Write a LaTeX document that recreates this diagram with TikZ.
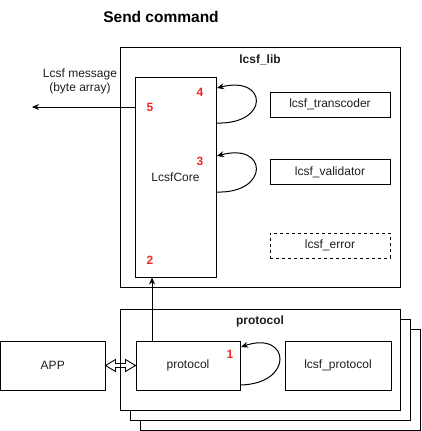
\documentclass[tikz,border=0pt]{standalone}
\usepackage{fontspec}
\setmainfont{Liberation Sans}
\usetikzlibrary{arrows.meta}
\definecolor{numred}{RGB}{240,40,40}
\definecolor{txt}{RGB}{30,30,30}
\begin{document}
\begin{tikzpicture}[x=1pt,y=-1pt,line width=1pt,
  box/.style={draw,fill=white,rectangle,inner sep=0pt,text=txt,font=\fontsize{12}{14}\selectfont},
  num/.style={text=numred,font=\bfseries\fontsize{12}{14}\selectfont,inner sep=0pt},
  ttl/.style={text=txt,font=\bfseries\fontsize{12}{14}\selectfont,inner sep=0pt},
  arr/.style={-{Stealth[length=7pt,width=6pt]}}]
\useasboundingbox (0,0) rectangle (421,431);
% title
\node[font=\bfseries\fontsize{15.5}{18}\selectfont,inner sep=0pt] (title) at (161,17) {Send command};
% lcsf_lib
\node[box,minimum width=280pt,minimum height=240pt] (lib) at (260,167) {};
\node[ttl] (libt) at (260,60) {lcsf\_lib};
\node[box,minimum width=81pt,minimum height=200pt] (core) at (175.5,177) {};
\node[text=txt,font=\fontsize{12}{14}\selectfont,inner sep=0pt] (coret) at (175.5,177) {LcsfCore};
\node[box,minimum width=120pt,minimum height=25pt] (trans) at (330,104.5) {lcsf\_transcoder};
\node[box,minimum width=120pt,minimum height=25pt] (valid) at (330,172) {lcsf\_validator};
\node[box,dashed,minimum width=120pt,minimum height=25pt] (err) at (330,245.5) {lcsf\_error};
% numbers
\node[num] (n4) at (200,92) {4};
\node[num] (n5) at (150,107) {5};
\node[num] (n3) at (200,161) {3};
\node[num] (n2) at (150,260) {2};
% message arrow
\coordinate (msgend) at (32,107);
\draw[arr] (core.west |- 0,107) -- (msgend);
\node[text=txt,font=\fontsize{12}{14}\selectfont,align=center,inner sep=0pt] (msg) at (80,81) {Lcsf message\\(byte array)};
% self loops on core
\draw[arr] (216,123) .. controls (270,125) and (268,75) .. (217,88);
\draw[arr] (216,192) .. controls (270,194) and (268,142) .. (217,156);
% protocol stack
\node[box,minimum width=280pt,minimum height=101pt] (ps3) at (280,379.5) {};
\node[box,minimum width=280pt,minimum height=101pt] (ps2) at (270,369.5) {};
\node[box,minimum width=280pt,minimum height=101pt] (ps1) at (260,359.5) {};
\node[ttl] (pst) at (260,321) {protocol};
\node[box,minimum width=104pt,minimum height=49pt] (pin) at (188,365.5) {protocol};
\node[box,minimum width=106pt,minimum height=49pt] (lp) at (338,365.5) {lcsf\_protocol};
\node[num] (n1) at (230,354) {1};
\draw[arr] (240,385) .. controls (295,384) and (290,330) .. (241,347);
% APP
\node[box,minimum width=104.5pt,minimum height=49pt] (app) at (52.75,365.5) {APP};
% up arrow
\draw[arr] (pin.north -| 152,0) -- (core.south -| 152,0);
% hollow double arrow
\draw[line width=0.9pt,line join=miter] (app.east |- 0,365.5) -- ++(10,-6) -- ++(0,4) -- ++(10,0) -- ++(0,-4) -- (pin.west |- 0,365.5) -- ++(-10,6) -- ++(0,-4) -- ++(-10,0) -- ++(0,4) -- cycle;
\end{tikzpicture}
\end{document}
